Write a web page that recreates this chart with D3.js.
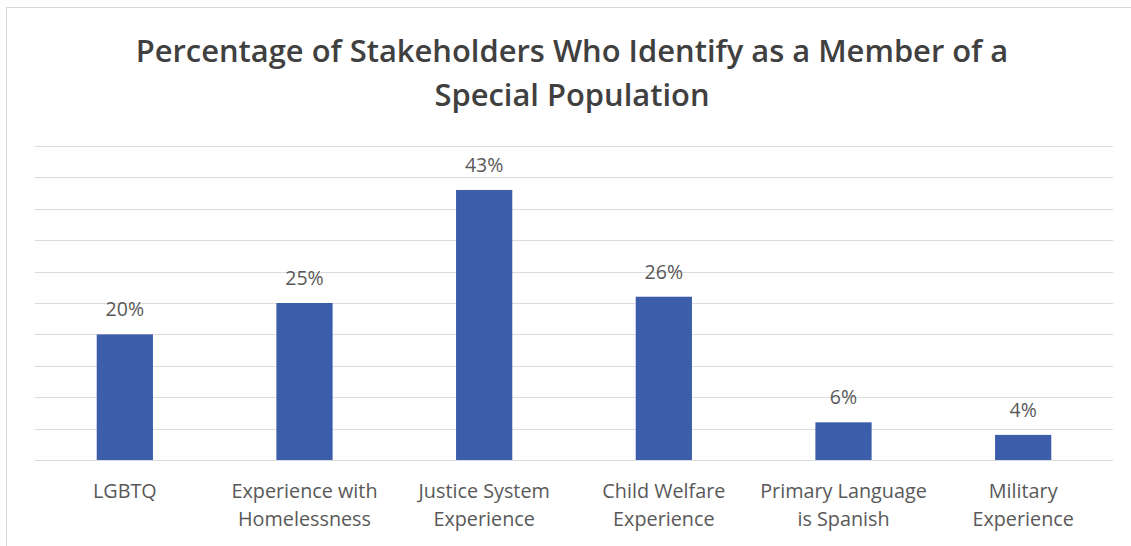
<!DOCTYPE html>
<html><head><meta charset="utf-8">
<script src="https://cdn.jsdelivr.net/npm/d3@7"></script>
<style>
html,body{margin:0;padding:0;background:#fff;}
svg{display:block;}
text{font-family:"Open Sans", Lato, sans-serif;}
</style></head>
<body>
<svg id="chart" width="1131" height="546"></svg>
<script>
const categories = [["LGBTQ"],["Experience with","Homelessness"],["Justice System","Experience"],["Child Welfare","Experience"],["Primary Language","is Spanish"],["Military","Experience"]];
const values = [20, 25, 43, 26, 6, 4];
const gridTicks = [0,5,10,15,20,25,30,35,40,45,50];
const titleLines = ["Percentage of Stakeholders Who Identify as a Member of a","Special Population"];

const m = {left:35, right:1113, top:146, bottom:460};
const svg = d3.select("#chart");

svg.append("rect").attr("x",6.5).attr("y",7.5).attr("width",1140).attr("height",545)
  .attr("fill","none").attr("stroke","#d9d9d9");

const x = d3.scaleBand().domain(d3.range(categories.length)).range([m.left,m.right]).paddingInner(0.687).paddingOuter(0.3435);
const y = d3.scaleLinear().domain([0,50]).range([m.bottom,m.top]);

svg.append("g").selectAll("line").data(gridTicks).join("line")
  .attr("x1",m.left).attr("x2",m.right)
  .attr("y1",d=>Math.round(y(d))+0.5).attr("y2",d=>Math.round(y(d))+0.5)
  .attr("stroke","#dcdcdc").attr("stroke-width",1);

svg.append("g").selectAll("rect").data(values).join("rect")
  .attr("x",(d,i)=>x(i)).attr("width",x.bandwidth())
  .attr("y",d=>y(d)).attr("height",d=>y(0)-y(d))
  .attr("fill","#3c5da9");

svg.append("g").selectAll("text").data(values).join("text")
  .attr("x",(d,i)=>x(i)+x.bandwidth()/2).attr("y",d=>y(d)-18)
  .attr("text-anchor","middle")
  .attr("font-size",19.5).attr("fill","#595959").text(d=>d+"%");

const lab = svg.append("g").selectAll("text").data(categories).join("text")
  .attr("text-anchor","middle").attr("font-size",19.8).attr("fill","#595959");
lab.each(function(d,i){
  const t = d3.select(this);
  d.forEach((s,j)=>t.append("tspan").attr("x",x(i)+x.bandwidth()/2).attr("y",498+j*28).text(s));
});

const title = svg.append("g").selectAll("text").data(titleLines).join("text")
  .attr("x",572).attr("y",(d,i)=>62+i*44).attr("text-anchor","middle")
  .attr("font-size",28).attr("font-weight",600).attr("fill","#404040").text(d=>d);
// fit title width to reference
const w0 = title.node().getComputedTextLength();
const fs = 28*873/w0;
title.attr("font-size",fs);
</script>
</body></html>
